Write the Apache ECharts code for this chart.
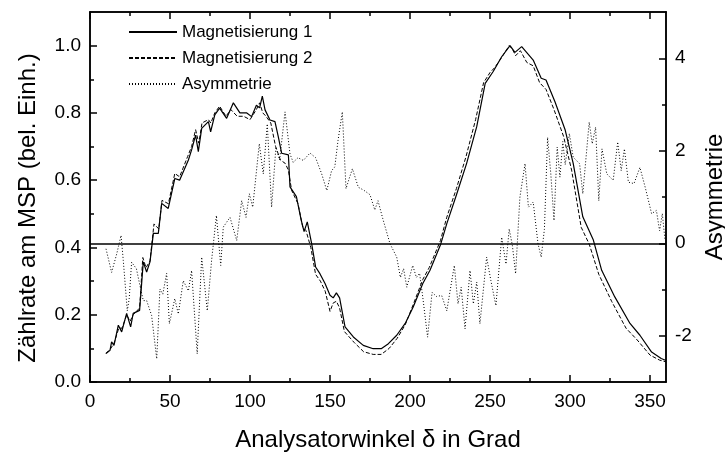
<!DOCTYPE html>
<html><head><meta charset="utf-8">
<script src="https://cdn.jsdelivr.net/npm/echarts@6/dist/echarts.min.js"></script>
<style>html,body{margin:0;padding:0;background:#fff}#c{width:725px;height:457px}</style>
</head><body><div id="c"></div>
<script>
const m1Angle=[10,12.5,13.5,15,17.7,19.8,22.9,25.4,27,31,33.3,35.4,37.5,39.6,42.7,44.8,48.9,53,56,61.5,63.5,66,67.7,69.8,74,75.4,78,81,85.4,89.6,93.7,98,101,104,106,107.7,109.4,112.5,115.6,117.7,119.8,124,125,129,132,133.8,135.8,138.5,141,143.7,146.9,150,152,154,156,159.4,164.6,170.8,177,182,186.5,191.7,197,202,208,212.5,219,223,229,235.4,241.7,247,252,257.3,262.5,265.6,269.8,277,282,285,290.6,297,302,308,314.6,319.8,328,337.5,343.7,351,357,360];
const m1Value=[0.085,0.094,0.119,0.109,0.169,0.149,0.204,0.164,0.204,0.213,0.357,0.327,0.357,0.442,0.442,0.531,0.516,0.605,0.600,0.66,0.69,0.734,0.685,0.754,0.774,0.744,0.794,0.814,0.784,0.83,0.80,0.80,0.789,0.823,0.815,0.85,0.809,0.779,0.774,0.729,0.68,0.675,0.58,0.551,0.481,0.447,0.476,0.412,0.342,0.322,0.293,0.258,0.25,0.265,0.25,0.164,0.134,0.109,0.099,0.099,0.114,0.139,0.174,0.223,0.293,0.332,0.407,0.471,0.556,0.65,0.759,0.888,0.923,0.967,1.0,0.98,0.997,0.957,0.903,0.898,0.833,0.749,0.65,0.491,0.422,0.332,0.253,0.174,0.139,0.089,0.07,0.064];
const m2Angle=[10,13,15,18,20,23,25,27,31,33,35,37.5,40,43,45,49,53,56,61,63.5,66,68,70,74,75.5,78,81,85,88,92,96,100,104,106,108,110,113,116,119,122,124,126,130,133,135,138,141,144,147,150,152,154,156,159,165,171,177,182,187,192,197,202,208,212,219,223,229,235,241,246,250,253,258,262,264,266,269,273,277,281,285,290,296,301,307,312,318,326,335,342,350,356,360];
const m2Value=[0.085,0.1,0.115,0.16,0.16,0.2,0.18,0.2,0.22,0.37,0.34,0.36,0.47,0.455,0.54,0.53,0.62,0.61,0.67,0.7,0.75,0.71,0.77,0.78,0.77,0.8,0.82,0.79,0.81,0.79,0.79,0.78,0.81,0.83,0.8,0.79,0.77,0.7,0.66,0.65,0.63,0.57,0.53,0.46,0.45,0.4,0.32,0.3,0.27,0.21,0.235,0.24,0.22,0.15,0.118,0.09,0.082,0.082,0.1,0.13,0.17,0.23,0.305,0.34,0.42,0.49,0.575,0.67,0.78,0.89,0.92,0.935,0.97,1.0,0.99,0.97,0.985,0.95,0.94,0.89,0.87,0.81,0.73,0.63,0.46,0.41,0.32,0.24,0.16,0.125,0.08,0.065,0.06];
const aAngle=[10,13.5,16.7,19.4,20.8,23.3,24.5,26,29,31,33.3,35.4,38.5,41.7,43.7,45.5,47.9,49.6,53,55.2,58.3,61.5,63.5,67,69.8,73.3,76,79,81.7,83.3,87.5,91.7,94.8,97.5,99.6,101.7,105.8,108.3,110.8,113.5,116.2,118.5,121.9,125,127,130,133.3,137.5,141,144.8,148,151,153,155,157.7,160,162,164,167.7,171,175,178,180,183,187.5,191.7,194,196,198,201.7,204,206,208,211,213.8,216.5,219.8,223,227.7,230,232,234.4,237.5,239.6,241.7,243.7,247.9,250.5,253.7,257.3,260,262,264,266,268.7,271.9,274,277,280,282,284,286,288,290,292,293.7,295.5,297,299.6,302,306,308,312,313.9,316,318,320,323,327,329.8,332,334,336.5,340,343.7,347,351,354,356,357.7,359.4];
const aValue=[-0.12,-0.63,-0.23,0.17,-0.37,-1.46,-1.2,-0.41,-0.55,-0.88,-1.24,-1.24,-1.56,-2.5,-0.99,-1.1,-0.65,-1.74,-1.2,-1.53,-0.81,-1.03,-0.59,-2.39,-0.3,-1.46,-0.37,0.6,-0.48,0.35,0.56,0.06,0.92,0.56,1.07,0.78,2.15,1.5,2.58,0.78,2.08,1.8,2.84,1.93,1.75,1.85,1.79,1.95,1.85,1.5,1.14,1.57,1.65,2.22,2.84,1.18,1.4,1.61,1.21,1.15,1.05,0.72,0.92,0.53,-0.01,-0.3,-0.74,-0.55,-0.95,-0.48,-0.74,-0.65,-1.17,-2.03,-1.06,-1.15,-1.13,-1.46,-0.48,-1.31,-0.95,-1.85,-0.59,-1.31,-0.84,-1.74,-0.3,-0.8,-1.35,0.13,-0.45,0.31,-0.05,-0.66,1.0,1.72,0.78,0.89,-0.01,-0.3,0.3,2.29,1.5,0.49,2.08,1.43,2.2,1.7,2.37,1.86,1.72,1.07,2.62,2.15,2.51,0.92,2.04,1.5,1.36,2.19,1.57,2.04,1.32,1.29,1.64,1.21,0.64,0.71,0.27,0.64,0.06];
const xTicks=[0,50,100,150,200,250,300,350];
const xMinor=[25,75,125,175,225,275,325];
const leftTicks=[0,0.2,0.4,0.6,0.8,1.0];
const leftMinor=[0.1,0.3,0.5,0.7,0.9];
const rightTicks=[-2,0,2,4];
const rightMinor=[-1,1,3];

const FONT='"Liberation Sans", Arial, sans-serif';
const zip=(a,b)=>a.map((v,i)=>[v,b[i]]);
const lineBlk={color:'#000',width:1.5};
function xAx(pos,ticks,len,labels,extra){
  return Object.assign({type:'value',position:pos,min:0,max:360,
    axisLine:{show:true,onZero:false,lineStyle:lineBlk},
    axisTick:{show:true,inside:true,length:len,customValues:ticks,lineStyle:lineBlk},
    axisLabel:{show:labels,customValues:ticks,color:'#000',fontSize:19,fontFamily:FONT,margin:10},
    splitLine:{show:false},axisPointer:{show:false}},extra||{});
}
function yAx(pos,min,max,ticks,len,labels,fmt,extra){
  return Object.assign({type:'value',position:pos,min:min,max:max,
    axisLine:{show:true,onZero:false,lineStyle:lineBlk},
    axisTick:{show:true,inside:true,length:len,customValues:ticks,lineStyle:lineBlk},
    axisLabel:{show:labels,customValues:ticks,color:'#000',fontSize:19,fontFamily:FONT,margin:9,formatter:fmt},
    splitLine:{show:false},axisPointer:{show:false}},extra||{});
}
const chart=echarts.init(document.getElementById('c'),null,{renderer:'canvas'});
chart.setOption({
  animation:false,
  backgroundColor:'#fff',
  grid:{left:90,right:59,top:12,bottom:75,containLabel:false,outerBoundsMode:'none'},
  legend:{show:true,orient:'vertical',left:128,top:23,padding:0,itemWidth:48,itemHeight:14,itemGap:8,
    itemStyle:{opacity:0},
    textStyle:{color:'#000',fontSize:17,lineHeight:18,fontFamily:FONT},
    data:['Magnetisierung 1','Magnetisierung 2','Asymmetrie']},
  xAxis:[
    xAx('bottom',xTicks,7,true,{name:'Analysatorwinkel δ in Grad',nameLocation:'middle',nameGap:46,
      nameTextStyle:{color:'#000',fontSize:24,fontFamily:FONT}}),
    xAx('bottom',xMinor,4,false),
    xAx('top',xTicks,7,false),
    xAx('top',xMinor,4,false)
  ],
  yAxis:[
    yAx('left',0,1.1,leftTicks,7,true,v=>v.toFixed(1),{name:'Zählrate am MSP (bel. Einh.)',nameLocation:'middle',nameGap:50,nameRotate:90,
      nameTextStyle:{color:'#000',fontSize:24,fontFamily:FONT,padding:[0,22,0,0]}}),
    yAx('left',0,1.1,leftMinor,4,false),
    yAx('right',-3,5,rightTicks,7,true,v=>String(v),{name:'Asymmetrie',nameLocation:'middle',nameGap:37,nameRotate:90,
      nameTextStyle:{color:'#000',fontSize:24,fontFamily:FONT}}),
    yAx('right',-3,5,rightMinor,4,false)
  ],
  series:[
    {name:'Magnetisierung 1',type:'line',xAxisIndex:0,yAxisIndex:0,data:zip(m1Angle,m1Value),symbol:'none',
      lineStyle:{color:'#000',width:1.2},itemStyle:{color:'#000'}},
    {name:'Magnetisierung 2',type:'line',xAxisIndex:0,yAxisIndex:0,data:zip(m2Angle,m2Value),symbol:'none',
      lineStyle:{color:'#000',width:1,type:[4,2]},itemStyle:{color:'#000'}},
    {name:'Asymmetrie',type:'line',xAxisIndex:0,yAxisIndex:2,data:zip(aAngle,aValue),symbol:'none',
      lineStyle:{color:'#000',width:1,type:[1,2]},itemStyle:{color:'#000'},
      markLine:{silent:true,symbol:'none',label:{show:false},lineStyle:{color:'#000',type:'solid',width:1.5},data:[{yAxis:0}]}}
  ]
});
</script></body></html>
